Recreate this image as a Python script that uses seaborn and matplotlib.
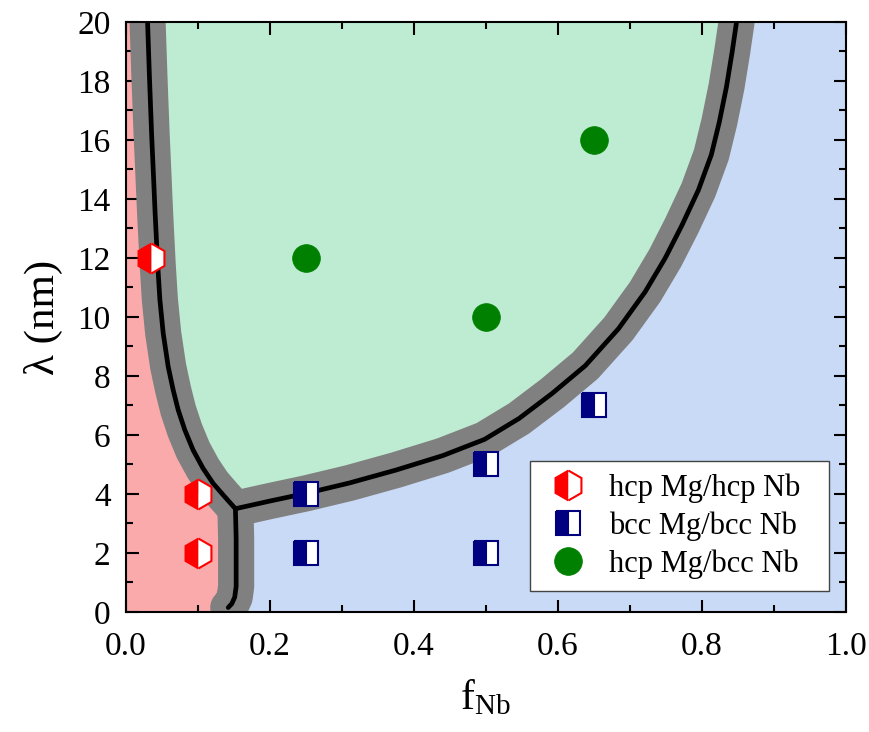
import matplotlib
matplotlib.use("Agg")
import matplotlib.pyplot as plt
import seaborn as sns
import numpy as np

# Phase boundaries (f_Nb, lambda in nm), each starting at the triple point
left_f = [0.152, 0.137, 0.121, 0.107, 0.0932, 0.0817, 0.0725, 0.0655, 0.0586,
          0.0517, 0.0471, 0.0440, 0.0405, 0.0380, 0.0356, 0.0325, 0.030]
left_lam = [3.5, 3.91, 4.36, 4.87, 5.49, 6.17, 6.85, 7.53, 8.32,
            9.45, 10.58, 11.8, 13.5, 14.9, 16.2, 18.2, 20.0]

right_f = [0.152, 0.20, 0.25, 0.31, 0.375, 0.44, 0.498, 0.546, 0.592, 0.638,
           0.684, 0.721, 0.749, 0.772, 0.795, 0.813, 0.824, 0.834, 0.842, 0.848]
right_lam = [3.5, 3.76, 4.02, 4.37, 4.81, 5.3, 5.85, 6.56, 7.41, 8.35,
             9.6, 10.85, 12.0, 13.1, 14.3, 15.5, 16.6, 17.8, 19.0, 20.0]

vert_f = [0.152, 0.153, 0.153, 0.153, 0.151, 0.147, 0.142]
vert_lam = [3.5, 2.5, 1.5, 0.86, 0.5, 0.28, 0.15]

# Simulated structures
hh_f = [0.035, 0.1, 0.1]
hh_lam = [12, 4, 2]
bb_f = [0.25, 0.25, 0.5, 0.5, 0.65]
bb_lam = [2, 4, 2, 5, 7]
hb_f = [0.25, 0.5, 0.65]
hb_lam = [12, 10, 16]

labels = ["hcp Mg/hcp Nb", "bcc Mg/bcc Nb", "hcp Mg/bcc Nb"]
xticks = [0.0, 0.2, 0.4, 0.6, 0.8, 1.0]
yticks = list(range(0, 21, 2))

sns.set_theme(style="ticks")
plt.rcParams["font.family"] = ["Liberation Serif", "DejaVu Serif"]
plt.rcParams["mathtext.fontset"] = "stix"
plt.rcParams["text.color"] = "black"
plt.rcParams["axes.labelcolor"] = "black"

RED_BG = "#FAAAAA"
GREEN_BG = "#BEECD2"
BLUE_BG = "#C9DAF6"

fig, ax = plt.subplots(figsize=(8.7, 7.32), dpi=100)
fig.subplots_adjust(left=0.1448, right=0.9724, top=0.970, bottom=0.164)

xmin, xmax, ymin, ymax = 0.0, 1.0, 0.0, 20.0

# Region fills
red_x = [xmin, xmin] + left_f[::-1] + vert_f[1:] + [vert_f[-1]]
red_y = [ymin, ymax] + left_lam[::-1] + vert_lam[1:] + [ymin]
ax.fill(red_x, red_y, color=RED_BG, lw=0, zorder=0)

green_x = left_f + right_f[::-1]
green_y = left_lam + right_lam[::-1]
ax.fill(green_x, green_y, color=GREEN_BG, lw=0, zorder=0)

blue_x = vert_f + [vert_f[-1], xmax, xmax] + right_f[::-1]
blue_y = vert_lam + [ymin, ymin, ymax] + right_lam[::-1]
ax.fill(blue_x, blue_y, color=BLUE_BG, lw=0, zorder=0)

# Boundary lines: wide grey band with a black centre line
curves = [(left_f, left_lam), (right_f, right_lam), (vert_f, vert_lam)]
for fx, fy in curves:
    sns.lineplot(x=fx, y=fy, sort=False, estimator=None, ax=ax, color="#808080",
                 linewidth=26, solid_capstyle="round", solid_joinstyle="round", zorder=1)
for fx, fy in curves:
    sns.lineplot(x=fx, y=fy, sort=False, estimator=None, ax=ax, color="black",
                 linewidth=3.4, solid_capstyle="round", solid_joinstyle="round", zorder=2)

# Data points
sns.lineplot(x=hh_f, y=hh_lam, estimator=None, sort=False, ax=ax, linestyle="",
             marker="h", markersize=21.5, color="red", markerfacecolor="red",
             markerfacecoloralt="white", fillstyle="left", markeredgecolor="red",
             markeredgewidth=1.5, label=labels[0], zorder=3)
sns.lineplot(x=bb_f, y=bb_lam, estimator=None, sort=False, ax=ax, linestyle="",
             marker="s", markersize=17, color="#000080", markerfacecolor="#000080",
             markerfacecoloralt="white", fillstyle="left", markeredgecolor="#000080",
             markeredgewidth=1.5, label=labels[1], zorder=3)
sns.lineplot(x=hb_f, y=hb_lam, estimator=None, sort=False, ax=ax, linestyle="",
             marker="o", markersize=20, color="#008000", markerfacecolor="#008000",
             markeredgecolor="#008000", markeredgewidth=0.5, label=labels[2], zorder=3)

ax.set_xlim(xmin, xmax)
ax.set_ylim(ymin, ymax)
ax.set_xticks(xticks)
ax.set_xticklabels([f"{v:.1f}" for v in xticks])
ax.set_yticks(yticks)
ax.set_yticklabels([str(v) for v in yticks])
ax.set_xticks(np.arange(0.1, 1.0, 0.2), minor=True)
ax.set_yticks(np.arange(1, 20, 2), minor=True)

ax.tick_params(which="both", direction="in", top=True, right=True, width=1.5,
               color="black", labelsize=24, labelcolor="black")
ax.tick_params(which="major", length=9)
ax.tick_params(which="minor", length=5)
ax.tick_params(axis="x", which="major", pad=14)
ax.tick_params(axis="y", which="major", pad=11)
for sp in ax.spines.values():
    sp.set_visible(True)
    sp.set_linewidth(1.5)
    sp.set_color("black")
    sp.set_zorder(5)

ax.set_xlabel("f$_{\\mathregular{Nb}}$", fontsize=30, labelpad=12, color="black")
ax.set_ylabel("λ (nm)", fontsize=31, labelpad=10, color="black")

leg = ax.legend(loc="lower right", bbox_to_anchor=(0.561, 0.0356, 0.415, 0.2),
                mode="expand", borderaxespad=0,
                fontsize=22, frameon=True, fancybox=False, edgecolor="#444444",
                framealpha=1, labelspacing=0.28, handletextpad=0.5, handlelength=1.7,
                borderpad=0.4)
leg.get_frame().set_linewidth(1.0)
leg.set_zorder(6)
for t in leg.get_texts():
    t.set_color("black")

fig.savefig("out.png", dpi=100)
